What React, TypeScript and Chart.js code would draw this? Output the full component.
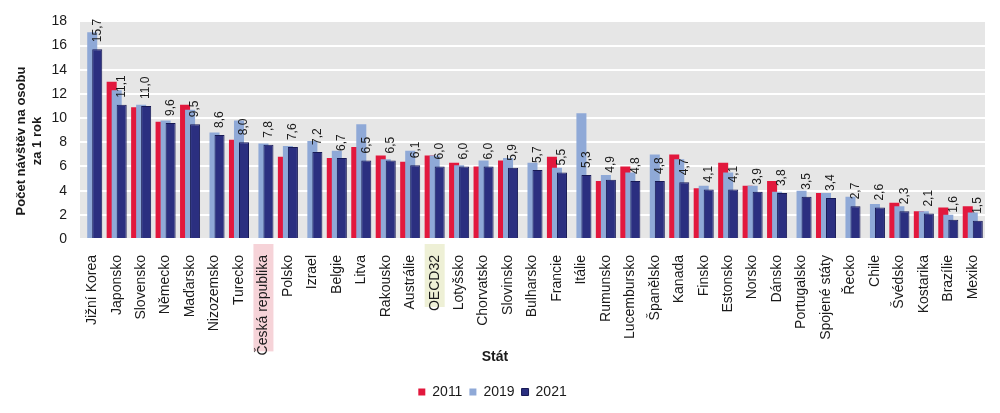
import React, { useEffect, useRef } from "react";
import { Chart, registerables } from "chart.js";

Chart.register(...registerables);

const countries = ["Jižní Korea","Japonsko","Slovensko","Německo","Maďarsko","Nizozemsko","Turecko","Česká republika","Polsko","Izrael","Belgie","Litva","Rakousko","Austrálie","OECD32","Lotyšsko","Chorvatsko","Slovinsko","Bulharsko","Francie","Itálie","Rumunsko","Lucembursko","Španělsko","Kanada","Finsko","Estonsko","Norsko","Dánsko","Portugalsko","Spojené státy","Řecko","Chile","Švédsko","Kostarika","Brazílie","Mexiko"];

const values2011 = [null,13.0,10.9,9.7,11.1,null,8.2,null,6.8,null,6.7,7.6,6.9,6.4,6.9,6.3,6.0,6.5,null,6.8,null,4.8,6.0,null,7.0,4.2,6.3,4.4,4.8,null,3.8,null,null,3.0,2.3,2.6,2.7];
const values2019 = [17.1,12.3,11.1,9.8,10.7,8.8,9.8,7.9,7.7,8.1,7.3,9.5,6.6,7.3,6.9,6.1,6.5,6.7,6.3,5.9,10.4,5.3,5.5,7.0,6.6,4.4,5.5,4.4,3.9,4.0,3.8,3.5,2.9,2.7,2.3,2.0,2.2];
const values2021 = [15.7,11.1,11.0,9.6,9.5,8.6,8.0,7.8,7.6,7.2,6.7,6.5,6.5,6.1,6.0,6.0,6.0,5.9,5.7,5.5,5.3,4.9,4.8,4.8,4.7,4.1,4.1,3.9,3.8,3.5,3.4,2.7,2.6,2.3,2.1,1.6,1.5];

const seriesNames = ["2011", "2019", "2021"];
const yTitle = ["Počet návštěv na osobu      ", "za 1 rok      "];
const xTitle = "Stát";
const highlights = [
  { label: "Česká republika", color: "#f6d3d8" },
  { label: "OECD32", color: "#eef0d6" },
];

const FONT = "'Liberation Sans', Arial, sans-serif";
const TEXT = "#1a1a1a";

const bgPlugin = {
  id: "bgAndHighlights",
  beforeDraw(chart: any) {
    const { ctx, chartArea: a, scales } = chart;
    ctx.save();
    ctx.fillStyle = "#e6e6e6";
    ctx.fillRect(a.left, a.top, a.right - a.left, a.bottom - a.top);
    const xs = scales.x;
    ctx.font = `14px ${FONT}`;
    highlights.forEach((h) => {
      const idx = countries.indexOf(h.label);
      if (idx < 0) return;
      const x = xs.getPixelForTick(idx);
      const w = ctx.measureText(h.label).width;
      ctx.fillStyle = h.color;
      ctx.fillRect(x - 10, a.bottom + 5, 20, w + 7);
    });
    ctx.restore();
  },
  afterDraw(chart: any) {
    const { ctx } = chart;
    ctx.save();
    ctx.font = `bold 14px ${FONT}`;
    ctx.fillStyle = TEXT;
    ctx.textAlign = "center";
    ctx.textBaseline = "middle";
    ctx.fillText(xTitle, 495, 357);
    ctx.restore();
  },
};

const drawPlugin = {
  id: "orderedBarsAndLabels",
  beforeDatasetsDraw(chart: any) {
    const { ctx, chartArea: a } = chart;
    ctx.save();
    ctx.beginPath();
    ctx.rect(a.left, a.top - 2, a.right - a.left, a.bottom - a.top + 2);
    ctx.clip();
    for (let i = 0; i < chart.data.datasets.length; i++) {
      const meta = chart.getDatasetMeta(i);
      if (meta.visible !== false) meta.controller.draw();
    }
    ctx.restore();
    const meta = chart.getDatasetMeta(2);
    ctx.save();
    ctx.font = `12px ${FONT}`;
    ctx.fillStyle = TEXT;
    ctx.textAlign = "left";
    ctx.textBaseline = "middle";
    meta.data.forEach((bar: any, i: number) => {
      const v = values2021[i];
      if (v == null) return;
      ctx.save();
      ctx.translate(bar.x, bar.y - 7);
      ctx.rotate(-Math.PI / 2);
      ctx.fillText(v.toFixed(1).replace(".", ","), 0, 0);
      ctx.restore();
    });
    ctx.restore();
    return false;
  },
};

export default function App() {
  const ref = useRef<HTMLCanvasElement | null>(null);
  useEffect(() => {
    document.body.style.margin = "0";
    if (!ref.current) return;
    const common = { barPercentage: 2, categoryPercentage: 0.615 };
    const chart = new Chart(ref.current, {
      type: "bar",
      data: {
        labels: countries,
        datasets: [
          { label: seriesNames[0], data: values2011, backgroundColor: "#e2183d", borderColor: "#c81030", borderWidth: 0, ...common },
          { label: seriesNames[1], data: values2019, backgroundColor: "#8fa9d7", borderColor: "#7f99c9", borderWidth: 0, ...common },
          { label: seriesNames[2], data: values2021, backgroundColor: "#2b2f80", borderColor: "#181a55", borderWidth: 1, ...common },
        ],
      },
      options: {
        animation: false,
        responsive: false,
        maintainAspectRatio: false,
        layout: { padding: { top: 14, right: 15, bottom: 4, left: 0 } },
        plugins: {
          legend: {
            position: "bottom",
            labels: {
              boxWidth: 7,
              boxHeight: 7,
              padding: 7,
              color: TEXT,
              font: { size: 14, family: FONT },
              sort: (p: any, q: any) => p.datasetIndex - q.datasetIndex,
            },
          },
          tooltip: { enabled: false },
        },
        scales: {
          x: {
            grid: { display: false },
            border: { display: false },
            ticks: {
              autoSkip: false,
              maxRotation: 90,
              minRotation: 90,
              padding: 8,
              color: TEXT,
              font: { size: 14, family: FONT },
            },
            title: { display: false },
            afterFit: (s: any) => { s.height = 139; },
          },
          y: {
            min: 0,
            max: 18,
            ticks: { stepSize: 2, padding: 13, color: TEXT, font: { size: 14, family: FONT } },
            grid: { color: "#ffffff", lineWidth: 2, drawTicks: false },
            border: { display: false },
            title: {
              display: true,
              text: yTitle,
              color: TEXT,
              font: { size: 13, weight: "bold", family: FONT },
              padding: { top: 14, bottom: 0 },
            },
            afterFit: (s: any) => { s.width = 80; },
          },
        },
      },
      plugins: [bgPlugin, drawPlugin],
    } as any);
    return () => chart.destroy();
  }, []);
  return (
    <div style={{ width: 1000, height: 413 }}>
      <canvas ref={ref} width={1000} height={413} style={{ display: "block" }} />
    </div>
  );
}
